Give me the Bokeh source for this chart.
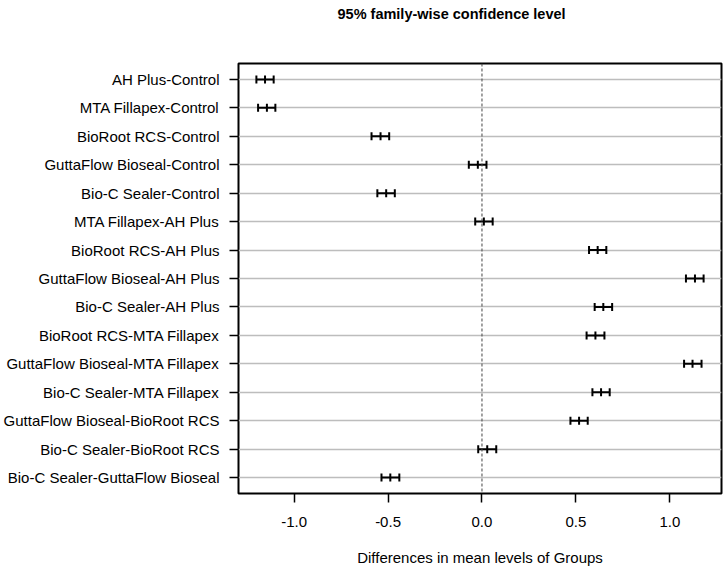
import numpy as np
from bokeh.plotting import figure
from bokeh.models import Range1d, FixedTicker, Span, Title, ColumnDataSource
from bokeh.embed import file_html
from bokeh.resources import INLINE

# ---- data (top row first) ----
comparisons = [
    "AH Plus-Control",
    "MTA Fillapex-Control",
    "BioRoot RCS-Control",
    "GuttaFlow Bioseal-Control",
    "Bio-C Sealer-Control",
    "MTA Fillapex-AH Plus",
    "BioRoot RCS-AH Plus",
    "GuttaFlow Bioseal-AH Plus",
    "Bio-C Sealer-AH Plus",
    "BioRoot RCS-MTA Fillapex",
    "GuttaFlow Bioseal-MTA Fillapex",
    "Bio-C Sealer-MTA Fillapex",
    "GuttaFlow Bioseal-BioRoot RCS",
    "Bio-C Sealer-BioRoot RCS",
    "Bio-C Sealer-GuttaFlow Bioseal",
]
diff = [-1.155, -1.145, -0.540, -0.022, -0.510, 0.010, 0.616, 1.134, 0.646,
        0.604, 1.121, 0.634, 0.517, 0.028, -0.488]
lwr = [-1.201, -1.192, -0.588, -0.070, -0.557, -0.036, 0.570, 1.086, 0.600,
       0.557, 1.076, 0.588, 0.471, -0.020, -0.535]
upr = [-1.109, -1.100, -0.494, 0.024, -0.464, 0.057, 0.662, 1.180, 0.693,
       0.652, 1.169, 0.680, 0.563, 0.076, -0.440]
x_ticks = [-1.0, -0.5, 0.0, 0.5, 1.0]
x_tick_labels = ["-1.0", "-0.5", "0.0", "0.5", "1.0"]
title_text = "95% family-wise confidence level"
x_label = "Differences in mean levels of Groups"

n = len(comparisons)
ypos = list(range(n, 0, -1))

# R-style 4% range extension
xmin, xmax = min(lwr), max(upr)
dx = (xmax - xmin) * 0.04
ymin, ymax = 1, n
dy = (ymax - ymin) * 0.04

FONT = "Liberation Sans"
W, H = 724, 569
BL, BR, BT, BB = 238, 3, 63, 76

p = figure(width=W, height=H, output_backend="svg", toolbar_location=None,
           x_range=Range1d(xmin - dx, xmax + dx), y_range=Range1d(ymin - dy, ymax + dy),
           min_border_left=BL, min_border_right=BR, min_border_top=BT, min_border_bottom=BB)
p.title.visible = False

# main title; two blank lines below it lift it towards the top of the page
p.add_layout(Title(text=title_text + "\n \n ", text_font=FONT, text_font_size="14.5px",
                   text_font_style="bold", align="left", offset=99, standoff=4,
                   text_line_height=1.25, text_color="black"), "above")

p.outline_line_color = "black"
p.outline_line_width = 2
p.outline_line_alpha = 1
p.background_fill_color = "white"
p.border_fill_color = "white"

p.xgrid.grid_line_color = None
p.ygrid.grid_line_color = "#bdbdbd"
p.ygrid.grid_line_width = 1.5

# x axis
p.xaxis.ticker = FixedTicker(ticks=x_ticks)
p.xaxis.major_label_overrides = {t: s for t, s in zip(x_ticks, x_tick_labels)}
p.xaxis.axis_line_color = None
p.xaxis.major_tick_in = 0
p.xaxis.major_tick_out = 9
p.xaxis.major_tick_line_color = "black"
p.xaxis.major_tick_line_width = 1.5
p.xaxis.minor_tick_line_color = None
p.xaxis.major_label_standoff = 14
p.xaxis.major_label_text_font = FONT
p.xaxis.major_label_text_font_size = "15px"
p.xaxis.major_label_text_color = "black"
p.xaxis.axis_label = x_label
p.xaxis.axis_label_text_font = FONT
p.xaxis.axis_label_text_font_size = "15px"
p.xaxis.axis_label_text_font_style = "normal"
p.xaxis.axis_label_text_color = "black"
p.xaxis.axis_label_standoff = 19

# y axis
p.yaxis.ticker = FixedTicker(ticks=ypos)
p.yaxis.major_label_overrides = {y: c for y, c in zip(ypos, comparisons)}
p.yaxis.axis_line_color = None
p.yaxis.major_tick_in = 0
p.yaxis.major_tick_out = 9
p.yaxis.major_tick_line_color = "black"
p.yaxis.major_tick_line_width = 1.5
p.yaxis.minor_tick_line_color = None
p.yaxis.major_label_standoff = 10
p.yaxis.major_label_text_font = FONT
p.yaxis.major_label_text_font_size = "15px"
p.yaxis.major_label_text_color = "black"

# zero reference line
p.add_layout(Span(location=0, dimension="height", line_color="#444444",
                  line_width=1, line_dash="3 2"))

src = ColumnDataSource(dict(y=ypos, diff=diff, lwr=lwr, upr=upr))
p.segment(x0="lwr", y0="y", x1="upr", y1="y", source=src,
          line_color="black", line_width=2)
for col in ["lwr", "diff", "upr"]:
    p.scatter(x=col, y="y", source=src, marker="dash", angle=np.pi / 2,
              size=8, line_color="black", line_width=2)

open("out.html", "w").write(file_html(p, INLINE))
